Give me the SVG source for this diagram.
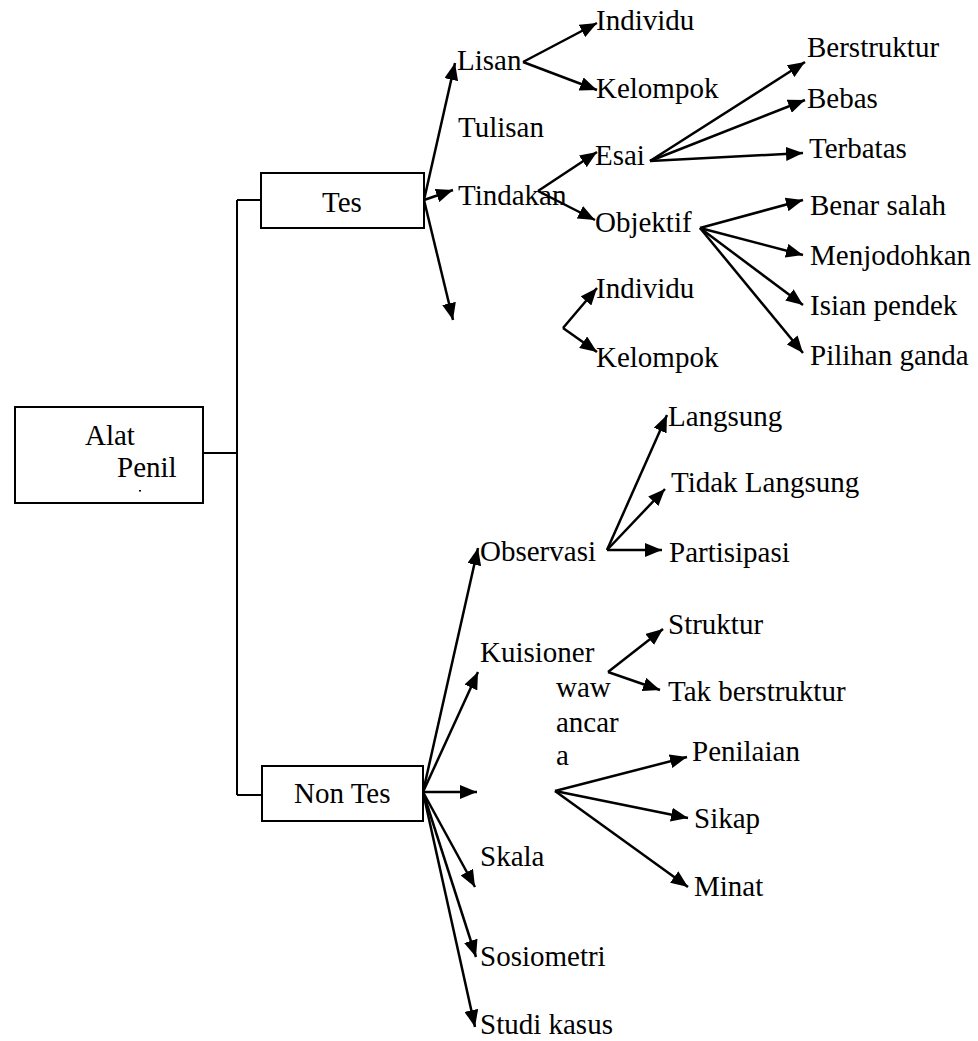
<svg xmlns="http://www.w3.org/2000/svg" width="978" height="1041" viewBox="0 0 978 1041">
<style>
text{font-family:"Liberation Serif","Times New Roman",serif;font-size:29px;fill:#000}
.box{fill:#fff;stroke:#000;stroke-width:2}
.ln{fill:none;stroke:#000;stroke-width:2}
.ar{fill:none;stroke:#000;stroke-width:2.5;marker-end:url(#ah)}
</style>
<defs>
<marker id="ah" markerUnits="userSpaceOnUse" markerWidth="17" markerHeight="14" refX="17" refY="7" orient="auto">
<path d="M0,0 L17,7 L0,14 z" fill="#000"/>
</marker>
</defs>
<rect width="978" height="1041" fill="#fff"/>
<g id="connectors">
<path class="ln" d="M203,453 H237 M237,200 V795 M237,200 H261 M237,795 H262"/>
<line class="ar" x1="424" y1="200" x2="455" y2="63"/>
<line class="ar" x1="424" y1="200" x2="453" y2="190"/>
<line class="ar" x1="424" y1="200" x2="453" y2="320"/>
<line class="ar" x1="523" y1="62" x2="597" y2="23"/>
<line class="ar" x1="523" y1="62" x2="597" y2="90"/>
<line class="ar" x1="538" y1="191" x2="597" y2="152"/>
<line class="ar" x1="538" y1="191" x2="595" y2="220"/>
<line class="ar" x1="650" y1="161" x2="805" y2="62"/>
<line class="ar" x1="650" y1="161" x2="805" y2="100"/>
<line class="ar" x1="650" y1="161" x2="803" y2="153"/>
<line class="ar" x1="700" y1="228" x2="803" y2="200"/>
<line class="ar" x1="700" y1="228" x2="803" y2="255"/>
<line class="ar" x1="700" y1="228" x2="803" y2="305"/>
<line class="ar" x1="700" y1="228" x2="803" y2="353"/>
<line class="ar" x1="563" y1="328" x2="597" y2="288"/>
<line class="ar" x1="563" y1="328" x2="597" y2="352"/>
<line class="ar" x1="423" y1="792" x2="478" y2="548"/>
<line class="ar" x1="423" y1="792" x2="478" y2="672"/>
<line class="ar" x1="423" y1="792" x2="477" y2="792"/>
<line class="ar" x1="423" y1="792" x2="475" y2="887"/>
<line class="ar" x1="423" y1="792" x2="476" y2="957"/>
<line class="ar" x1="423" y1="792" x2="475" y2="1027"/>
<line class="ar" x1="607" y1="550" x2="667" y2="415"/>
<line class="ar" x1="607" y1="550" x2="665" y2="489"/>
<line class="ar" x1="607" y1="550" x2="662" y2="550"/>
<line class="ar" x1="608" y1="672" x2="663" y2="629"/>
<line class="ar" x1="608" y1="672" x2="660" y2="690"/>
<line class="ar" x1="555" y1="791" x2="687" y2="757"/>
<line class="ar" x1="555" y1="791" x2="688" y2="818"/>
<line class="ar" x1="555" y1="791" x2="688" y2="887"/>
</g>
<g id="alat">
<rect class="box" x="15" y="407" width="188" height="96"/>
<text x="85" y="445">Alat</text>
<text x="117" y="477">Penil</text>
<rect x="139" y="490" width="2" height="1.5" fill="#000"/>
</g>
<g id="tes">
<rect class="box" x="261" y="173" width="163" height="55"/>
<text x="322" y="212">Tes</text>
</g>
<g id="nontes">
<rect class="box" x="262" y="766" width="161" height="55"/>
<text x="294" y="803">Non Tes</text>
</g>
<g id="lisan"><text x="457" y="70">Lisan</text></g>
<g id="tulisan"><text x="458" y="137">Tulisan</text></g>
<g id="tindakan"><text x="458" y="205">Tindakan</text></g>
<g id="individu1"><text x="596" y="30">Individu</text></g>
<g id="kelompok1"><text x="596" y="98">Kelompok</text></g>
<g id="esai"><text x="595" y="165">Esai</text></g>
<g id="objektif"><text x="595" y="232">Objektif</text></g>
<g id="berstruktur"><text x="807" y="57">Berstruktur</text></g>
<g id="bebas"><text x="807" y="108">Bebas</text></g>
<g id="terbatas"><text x="809" y="158">Terbatas</text></g>
<g id="benarsalah"><text x="810" y="215">Benar salah</text></g>
<g id="menjodohkan"><text x="810" y="265">Menjodohkan</text></g>
<g id="isianpendek"><text x="810" y="315">Isian pendek</text></g>
<g id="pilihanganda"><text x="810" y="365">Pilihan ganda</text></g>
<g id="individu2"><text x="596" y="298">Individu</text></g>
<g id="kelompok2"><text x="596" y="367">Kelompok</text></g>
<g id="observasi"><text x="480" y="561">Observasi</text></g>
<g id="kuisioner"><text x="480" y="662">Kuisioner</text></g>
<g id="wawancara"><text x="556" y="697">waw</text><text x="556" y="732">ancar</text><text x="556" y="765">a</text></g>
<g id="skala"><text x="480" y="866">Skala</text></g>
<g id="sosiometri"><text x="480" y="966">Sosiometri</text></g>
<g id="studikasus"><text x="480" y="1034">Studi kasus</text></g>
<g id="langsung"><text x="668" y="426">Langsung</text></g>
<g id="tidaklangsung"><text x="671" y="492">Tidak Langsung</text></g>
<g id="partisipasi"><text x="669" y="562">Partisipasi</text></g>
<g id="struktur"><text x="668" y="634">Struktur</text></g>
<g id="takberstruktur"><text x="668" y="701">Tak berstruktur</text></g>
<g id="penilaian"><text x="692" y="761">Penilaian</text></g>
<g id="sikap"><text x="694" y="828">Sikap</text></g>
<g id="minat"><text x="694" y="896">Minat</text></g>
</svg>
